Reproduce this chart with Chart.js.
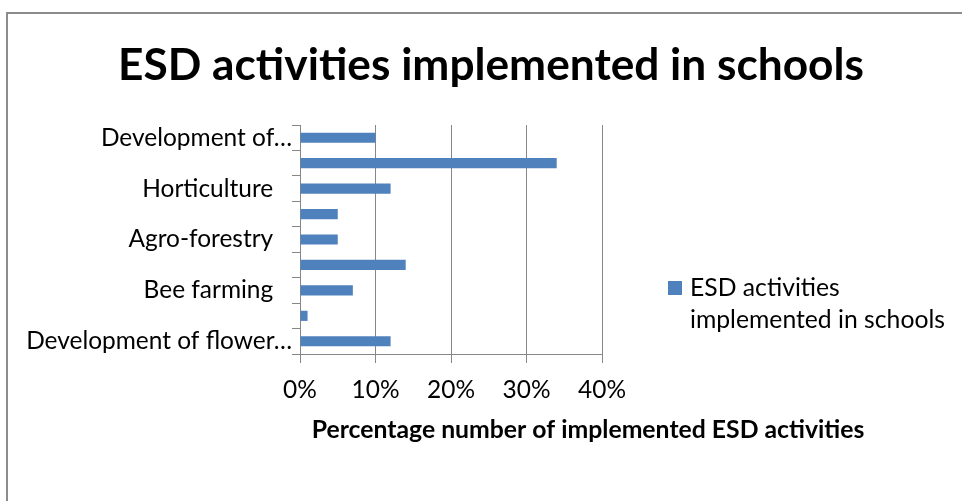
<!DOCTYPE html>
<html>
<head>
<meta charset="utf-8">
<script src="https://cdn.jsdelivr.net/npm/chart.js@4.4.1/dist/chart.umd.min.js"></script>
<style>
html,body{margin:0;padding:0;background:#fff;}
#wrap{width:962px;height:501px;position:relative;}
</style>
</head>
<body>
<div id="wrap"><canvas id="c" width="962" height="501"></canvas></div>
<script>
// ---- data ----
const chartTitle = "ESD activities implemented in schools";
const seriesName = "ESD activities implemented in schools";
const legendLines = ["ESD activities", "implemented in schools"];
const xAxisTitle = "Percentage number of implemented ESD activities";
const categories = ["Development of\u2026", "", "Horticulture", "", "Agro-forestry", "", "Bee farming", "", "Development of flower\u2026"];
const values = [10, 34, 12, 5, 5, 14, 7, 1, 12];
const xTickValues = [0, 10, 20, 30, 40];
const xTickLabels = ["0%", "10%", "20%", "30%", "40%"];

// ---- style helpers ----
const FAMILY = "Lato";
function fitSize(text, weight, target) {
  const c = document.createElement('canvas').getContext('2d');
  c.font = weight + " 100px " + FAMILY;
  return 100 * target / c.measureText(text).width;
}
const labelSize = fitSize("Horticulture", "normal", 131);
const titleSize = fitSize(chartTitle, "bold", 746);
const axisTitleSize = fitSize(xAxisTitle, "bold", 553);
const legendSize = fitSize(legendLines[1], "normal", 255);
const GRID = "#878787";
const BAR = "#4F81BD";

const overlay = {
  id: 'overlay',
  beforeDraw(chart) {
    const ctx = chart.ctx;
    ctx.save();
    ctx.fillStyle = "#fff";
    ctx.fillRect(0, 0, chart.width, chart.height);
    ctx.fillStyle = "#8c8c8c";
    ctx.fillRect(6, 12, 2, chart.height - 12);
    ctx.fillRect(6, 12, chart.width - 6, 2);
    ctx.restore();
  },
  afterDraw(chart) {
    const ctx = chart.ctx;
    const a = chart.chartArea;
    ctx.save();
    // x axis title
    ctx.font = "bold " + axisTitleSize + "px " + FAMILY;
    ctx.fillStyle = "#000";
    ctx.textAlign = "center";
    ctx.textBaseline = "middle";
    ctx.fillText(xAxisTitle, a.right - 14, a.bottom + 76);
    // legend
    const bx = a.right + 66, by = a.top + 156;
    ctx.fillStyle = chart.data.datasets[0].backgroundColor;
    ctx.fillRect(bx, by, 14, 14);
    ctx.fillStyle = "#000";
    ctx.textAlign = "left";
    ctx.font = "normal " + legendSize + "px " + FAMILY;
    legendLines.forEach((t, i) => ctx.fillText(t, bx + 22, by + 7 + i * 32));
    ctx.restore();
  }
};

new Chart(document.getElementById('c'), {
  type: 'bar',
  data: {
    labels: categories,
    datasets: [{
      label: seriesName,
      data: values,
      backgroundColor: BAR,
      borderWidth: 0,
      barPercentage: 0.8,
      categoryPercentage: 0.5
    }]
  },
  options: {
    indexAxis: 'y',
    responsive: false,
    animation: false,
    devicePixelRatio: 1,
    layout: { padding: { left: 20, right: 0, top: 0, bottom: 0 } },
    plugins: {
      legend: { display: false },
      tooltip: { enabled: false },
      title: {
        display: true,
        text: chartTitle,
        color: "#000",
        font: { family: FAMILY, weight: "bold", size: titleSize, lineHeight: 1.2 },
        padding: { top: 66 - titleSize * 0.6, bottom: 59 - titleSize * 0.6 }
      }
    },
    scales: {
      x: {
        type: 'linear',
        position: 'bottom',
        min: 0,
        max: 40,
        afterBuildTicks: s => { s.ticks = xTickValues.map(v => ({ value: v })); },
        ticks: {
          callback: (v, i) => xTickLabels[i],
          color: "#000",
          font: { family: FAMILY, size: labelSize },
          padding: 12,
          maxRotation: 0
        },
        grid: { color: GRID, lineWidth: 1, tickLength: 9, drawTicks: true },
        border: { color: GRID, width: 1 },
        afterFit: s => { s.height = 147; }
      },
      y: {
        type: 'category',
        position: 'left',
        ticks: {
          autoSkip: false,
          color: "#000",
          font: { family: FAMILY, size: labelSize },
          padding: 0,
          callback: (v, i) => {
            const l = categories[i];
            if (!l) return '';
            return l.endsWith('\u2026') ? l : l + '   ';
          }
        },
        grid: { drawOnChartArea: false, offset: true, tickLength: 8, color: GRID },
        border: { color: GRID, width: 1 },
        afterFit: s => { s.width = 280; }
      },
      spacer: {
        type: 'linear',
        position: 'right',
        display: true,
        grid: { display: false, drawTicks: false },
        ticks: { display: false },
        border: { display: false },
        afterFit: s => { s.width = 360; }
      }
    }
  },
  plugins: [overlay]
});
</script>
</body>
</html>
